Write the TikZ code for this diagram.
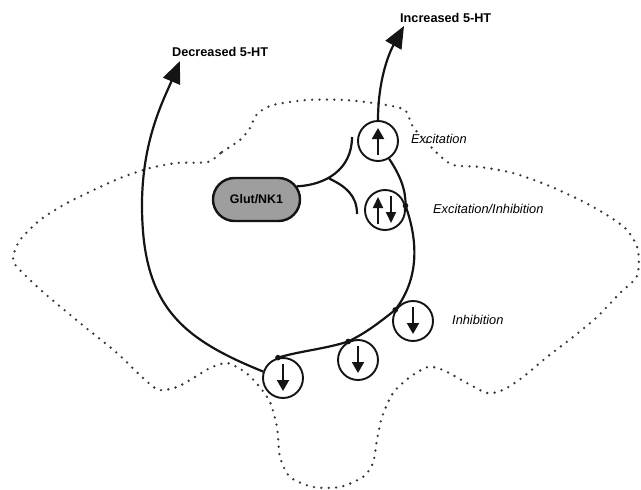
\documentclass[tikz,border=0pt]{standalone}
\usepackage{fontspec}
\setmainfont{Liberation Sans}
\usetikzlibrary{arrows.meta,shapes.misc,calc}
\tikzset{
  outline/.style={line width=2.6pt, dash pattern=on 0pt off 7.4pt, line cap=round, black!78},
  nerve/.style={line width=2.2pt, black!92},
  cell/.style={circle, draw=black!92, line width=1.9pt, minimum size=40pt, inner sep=0pt},
  bigtip/.style={-{Triangle[length=22pt,width=18pt]}},
  inarrow/.style={line width=2pt, black!92, -{Triangle[length=11pt,width=12pt]}},
  inarrowsm/.style={line width=2pt, black!92, -{Triangle[length=11pt,width=10pt]}},
  boldlab/.style={inner sep=0pt, anchor=west, font=\fontsize{12.7}{14}\selectfont\bfseries},
  itlab/.style={inner sep=0pt, anchor=west, font=\fontsize{12.8}{14}\selectfont\itshape},
  bouton/.style={black!92},
  glutbox/.style={rounded rectangle, draw=black!92, line width=2.4pt, fill=black!38,
     minimum width=87pt, minimum height=43pt, inner sep=0pt,
     font=\fontsize{12.4}{14}\selectfont\bfseries}
}
\begin{document}
\begin{tikzpicture}[x=1pt,y=-1pt]
\useasboundingbox[fill=white] (0,0) rectangle (641,490);
% dotted outline of the nucleus
\draw[outline] plot[smooth cycle, tension=0.45] coordinates {
 (208,162) (222,152) (240,140) (250,128) (257,114) (273,105) (307,100) (345,100)
 (380,104) (405,110) (413,127) (437,153) (453,165) (480,167) (513,173) (547,185)
 (580,200) (607,215) (627,230) (638,250) (637,276) (620,293) (597,317) (573,337)
 (547,357) (523,377) (503,390) (487,393) (467,383) (443,370) (428,367) (410,377)
 (393,393) (382,417) (377,440) (373,463) (363,477) (340,487) (313,487) (290,477)
 (280,457) (277,427) (270,402) (258,385) (245,372) (227,363) (210,368) (195,377)
 (177,387) (159,390) (143,378) (117,353) (80,323) (43,292) (17,267) (13,257)
 (20,240) (40,220) (67,203) (100,187) (123,177) (150,168) (177,163)};

% cells
\node[cell] (c1) at (378,141) {};
\node[cell] (c2) at (385,210) {};
\node[cell] (c3) at (413,321) {};
\node[cell] (c4) at (358,360) {};
\node[cell] (c5) at (283,378) {};
\node[glutbox] (glut) at (256.5,199.5) {Glut/NK1};

% arrows inside cells
\draw[inarrow] (378,155) -- (378,128);
\draw[inarrowsm] (378,224) -- (378,197);
\draw[inarrowsm] (391,196) -- (391,223);
\draw[inarrow] (413,307) -- (413,334);
\draw[inarrow] (358,346) -- (358,373);
\draw[inarrow] (283,364) -- (283,391);

% labels
\node[boldlab] (inc) at (400,18) {Increased 5-HT};
\node[boldlab] (dec) at (172,52) {Decreased 5-HT};
\node[itlab] (lexc) at (411,139) {Excitation};
\node[itlab] (lexi) at (433,209) {Excitation/Inhibition};
\node[itlab] (linh) at (452,320) {Inhibition};

% synaptic contact points
\coordinate (d2) at (c2.12);
\coordinate (d3) at (c3.148);
\coordinate (d4) at (c4.118);
\coordinate (d5) at (c5.104);
\coordinate (incTip) at (404,26);
\coordinate (decTip) at (180,61);
\coordinate (t1) at (352,137);
\coordinate (t2) at (357,214);
\coordinate (br) at (329,178.5);

% glutamate / NK1 input
\draw[nerve] (glut.18) .. controls (325,185) and (352,170) .. (t1);
\draw[nerve] (br) .. controls (345,186) and (357,195) .. (t2);

% output to increased 5-HT
\draw[nerve, bigtip] (c1.north) .. controls (378,82) and (388,55) .. (incTip);

% inhibitory / excitatory loop
\draw[nerve] (c1.-58) .. controls (400,175) and (406,190) .. (d2)
  .. controls (416,235) and (422,275) .. (d3)
  .. controls (380,322) and (366,333) .. (d4)
  .. controls (325,349) and (300,351) .. (d5);
\foreach \p in {d2,d3,d4,d5} \fill[bouton] (\p) circle (2.8pt);

% output to decreased 5-HT
\draw[nerve, bigtip] (c5.162) .. controls (180,338) and (142,305) .. (142,205)
  .. controls (142,140) and (164,99) .. (decTip);
\end{tikzpicture}
\end{document}
